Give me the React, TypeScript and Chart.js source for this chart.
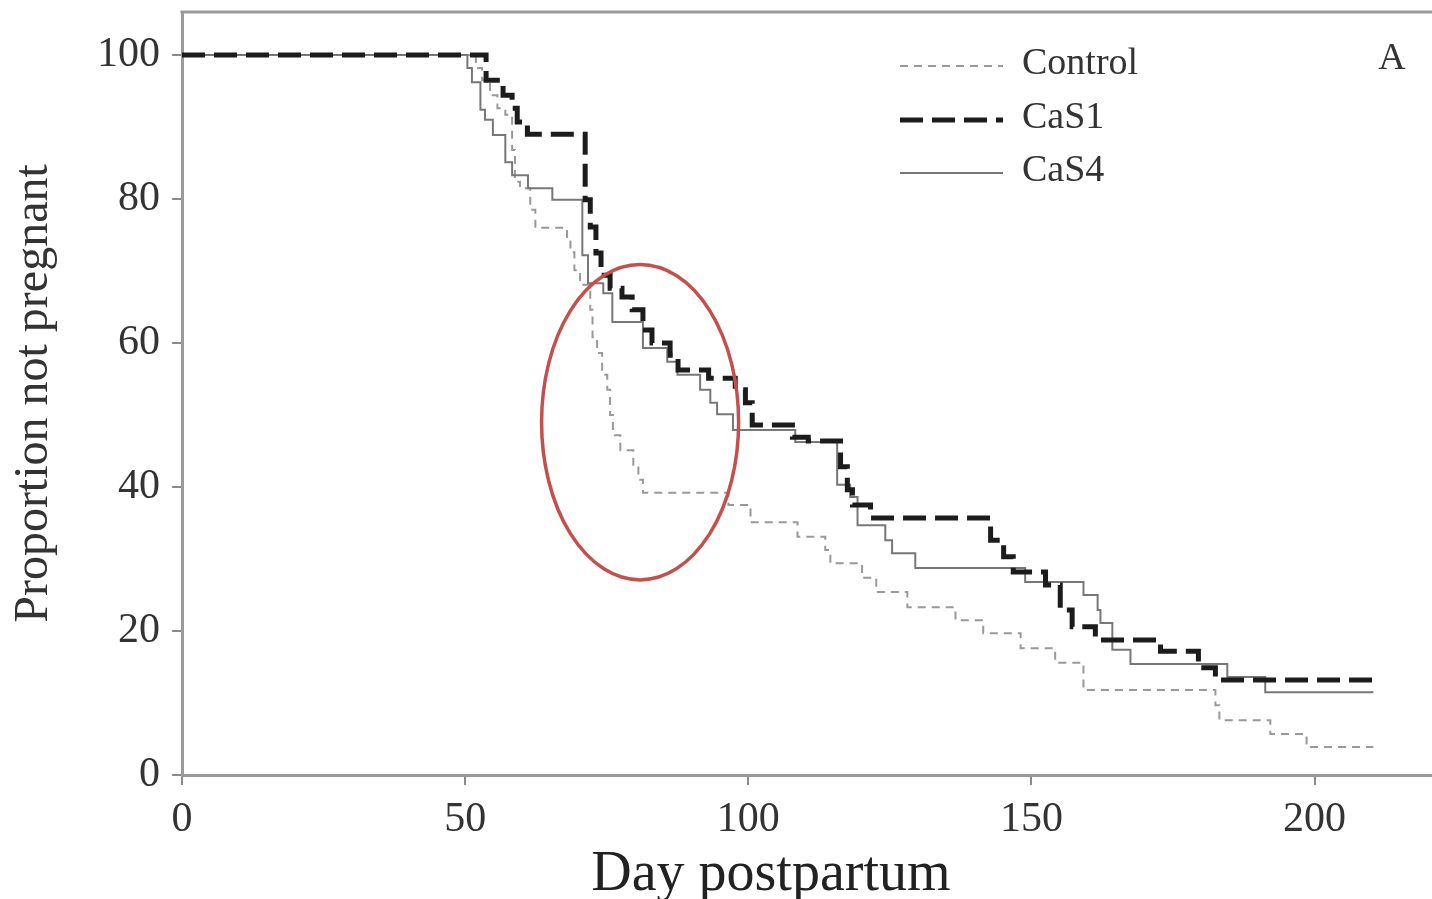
import React, { useEffect, useRef } from "react";
import { Chart, registerables } from "chart.js";

Chart.register(...registerables);

// ---- data (days postpartum, proportion not pregnant %) ----
const xTickValues = [0, 50, 100, 150, 200];
const yTickValues = [0, 20, 40, 60, 80, 100];
const seriesNames = ["Control", "CaS1", "CaS4"];

const controlDays = [0, 51.9, 53.0, 54.4, 55.7, 57.1, 58.3, 58.8, 59.7, 61.5, 62.4, 68.0, 68.6, 69.3, 70.3, 72.1, 72.5, 73.3, 74.2, 75.1, 75.6, 76.1, 77.4, 79.7, 80.6, 81.4, 96.5, 100.4, 108.7, 113.6, 114.5, 120.1, 122.6, 128.1, 136.6, 141.5, 148.1, 154.2, 159.2, 182.5, 183.2, 192.2, 198.6, 210.4];
const controlValues = [100, 98.2, 96.5, 94.4, 92.6, 91.7, 86.8, 82.4, 81.5, 78.5, 76.0, 74.3, 72.6, 70.1, 68.1, 64.6, 60.8, 58.6, 55.6, 53.5, 50.0, 47.2, 45.1, 43.1, 41.0, 39.2, 37.5, 35.1, 33.1, 31.25, 29.4, 27.4, 25.4, 23.3, 21.5, 19.7, 17.6, 15.6, 11.8, 9.7, 7.6, 5.7, 3.9, 3.9];

const cas1Days = [0, 53.7, 56.7, 58.3, 59.2, 61.0, 71.2, 72.1, 73.1, 74.0, 75.6, 77.7, 79.5, 81.4, 83.0, 86.2, 87.6, 93.0, 97.7, 99.5, 100.7, 107.8, 110.6, 116.3, 117.5, 118.4, 121.6, 142.8, 145.1, 146.8, 152.5, 155.1, 157.2, 161.3, 172.8, 179.5, 182.5, 210.4];
const cas1Values = [100, 96.5, 94.4, 92.6, 90.7, 89.0, 79.9, 76.1, 72.5, 69.4, 67.6, 66.4, 64.6, 61.8, 60.0, 58.3, 56.25, 55.1, 53.5, 51.7, 48.6, 46.9, 46.4, 42.8, 39.6, 37.5, 35.7, 32.6, 30.3, 28.2, 26.4, 22.9, 20.6, 18.75, 17.2, 14.9, 13.2, 13.2];

const cas4Days = [0, 50.4, 51.2, 52.7, 53.5, 54.9, 57.1, 58.3, 61.1, 65.4, 70.7, 71.7, 74.4, 76.0, 81.4, 85.7, 87.5, 91.5, 93.3, 94.5, 97.3, 108.3, 115.7, 118.0, 119.3, 124.2, 125.4, 129.5, 148.9, 159.2, 161.7, 162.2, 164.3, 167.5, 184.6, 191.3, 210.4];
const cas4Values = [100, 98.2, 96.2, 92.4, 91.0, 88.9, 85.1, 83.3, 81.5, 79.9, 72.2, 68.3, 66.9, 62.9, 59.3, 57.4, 55.6, 53.5, 51.7, 50.1, 47.9, 46.25, 40.3, 38.6, 34.7, 32.6, 30.8, 28.75, 26.8, 25.0, 22.9, 21.1, 17.4, 15.4, 13.6, 11.5, 11.5];

// highlighted region (red ellipse), in data units
const highlightCenterDay = 80.9;
const highlightCenterValue = 49.0;
const highlightRadiusDays = 17.4;
const highlightRadiusValue = 21.9;

const SERIF = "'Liberation Serif', 'Times New Roman', 'DejaVu Serif', serif";

const lineStyles = [
  { color: "#999999", width: 2, dash: [8, 6] },
  { color: "#1c1c1c", width: 5, dash: [23, 9] },
  { color: "#777777", width: 2, dash: [] as number[] },
];

export default function App() {
  const ref = useRef<HTMLCanvasElement>(null);

  useEffect(() => {
    if (!ref.current) return;
    const toPts = (d: number[], v: number[]) => d.map((x, i) => ({ x, y: v[i] }));
    const allDays = [controlDays, cas1Days, cas4Days];
    const allVals = [controlValues, cas1Values, cas4Values];
    const orders = [2, 0, 1];

    const overlay = {
      id: "overlay",
      beforeDatasetsDraw(chart: any) {
        const { ctx, chartArea } = chart;
        ctx.save();
        ctx.strokeStyle = "#9a9a9a";
        ctx.lineWidth = 3;
        ctx.beginPath();
        ctx.moveTo(chartArea.left - 1.5, chartArea.top);
        ctx.lineTo(chartArea.right, chartArea.top);
        ctx.stroke();
        ctx.restore();
      },
      afterDatasetsDraw(chart: any) {
        const { ctx, chartArea, scales } = chart;
        const xs = scales.x;
        const ys = scales.y;
        // red ellipse
        const cx = xs.getPixelForValue(highlightCenterDay);
        const cy = ys.getPixelForValue(highlightCenterValue);
        const rx = Math.abs(xs.getPixelForValue(highlightCenterDay + highlightRadiusDays) - cx);
        const ry = Math.abs(ys.getPixelForValue(highlightCenterValue + highlightRadiusValue) - cy);
        ctx.save();
        ctx.strokeStyle = "#c4504d";
        ctx.lineWidth = 3.5;
        ctx.beginPath();
        ctx.ellipse(cx, cy, rx, ry, 0, 0, Math.PI * 2);
        ctx.stroke();

        // legend
        const lx0 = chartArea.left + 718;
        const lx1 = chartArea.left + 821;
        const tx = chartArea.left + 840;
        const rows = [54, 108, 161];
        ctx.font = `38px ${SERIF}`;
        ctx.textBaseline = "middle";
        ctx.textAlign = "left";
        seriesNames.forEach((name, i) => {
          const st = lineStyles[i];
          const y = chartArea.top + rows[i];
          ctx.strokeStyle = st.color;
          ctx.lineWidth = st.width;
          ctx.setLineDash(st.dash);
          ctx.beginPath();
          ctx.moveTo(lx0, y);
          ctx.lineTo(lx1, y);
          ctx.stroke();
          ctx.setLineDash([]);
          ctx.fillStyle = "#333";
          ctx.fillText(name, tx, y - 2);
        });
        // panel letter
        ctx.textAlign = "center";
        ctx.fillText("A", chartArea.left + 1210, chartArea.top + 47);

        // x-axis title
        ctx.font = `56px ${SERIF}`;
        ctx.textAlign = "center";
        ctx.textBaseline = "middle";
        ctx.fillStyle = "#222";
        ctx.fillText("Day postpartum", xs.getPixelForValue(104), chartArea.bottom + 100);
        ctx.restore();
      },
    };

    const chart = new Chart(ref.current, {
      type: "line",
      data: {
        datasets: seriesNames.map((name, i) => ({
          label: name,
          data: toPts(allDays[i], allVals[i]),
          borderColor: lineStyles[i].color,
          borderWidth: lineStyles[i].width,
          borderDash: lineStyles[i].dash,
          stepped: "before" as const,
          pointRadius: 0,
          fill: false,
          order: orders[i],
        })),
      },
      options: {
        responsive: false,
        animation: false,
        devicePixelRatio: 1,
        layout: { padding: { top: 12, right: 0, left: 0, bottom: 0 } },
        plugins: { legend: { display: false }, tooltip: { enabled: false } },
        scales: {
          x: {
            type: "linear",
            min: 0,
            max: 220.75,
            afterBuildTicks: (s: any) => {
              s.ticks = xTickValues.map((v) => ({ value: v }));
            },
            afterFit: (s: any) => {
              s.height = 124;
              s.paddingLeft = 0;
              s.paddingRight = 0;
            },
            grid: { drawOnChartArea: false, drawTicks: true, tickLength: 10, color: "#8a8a8a", lineWidth: 2 },
            border: { display: true, color: "#9a9a9a", width: 3 },
            ticks: { color: "#333", font: { family: SERIF, size: 42 }, padding: 10, maxRotation: 0, autoSkip: false },
          },
          y: {
            type: "linear",
            min: 0,
            max: 105.97,
            afterBuildTicks: (s: any) => {
              s.ticks = yTickValues.map((v) => ({ value: v }));
            },
            afterFit: (s: any) => {
              s.width = 182;
              s.paddingTop = 0;
              s.paddingBottom = 0;
            },
            grid: { drawOnChartArea: false, drawTicks: true, tickLength: 10, color: "#8a8a8a", lineWidth: 2 },
            border: { display: true, color: "#9a9a9a", width: 3 },
            ticks: { color: "#333", font: { family: SERIF, size: 42 }, padding: 12 },
            title: {
              display: true,
              text: "Proportion not pregnant",
              color: "#333",
              font: { family: SERIF, size: 48 },
              padding: { top: 6, bottom: 0 },
            },
          },
        },
      },
      plugins: [overlay],
    });
    return () => chart.destroy();
  }, []);

  return (
    <div style={{ position: "absolute", left: 0, top: 0, width: 1432, height: 899, background: "#fff" }}>
      <canvas ref={ref} width={1432} height={899} style={{ display: "block" }} />
    </div>
  );
}
